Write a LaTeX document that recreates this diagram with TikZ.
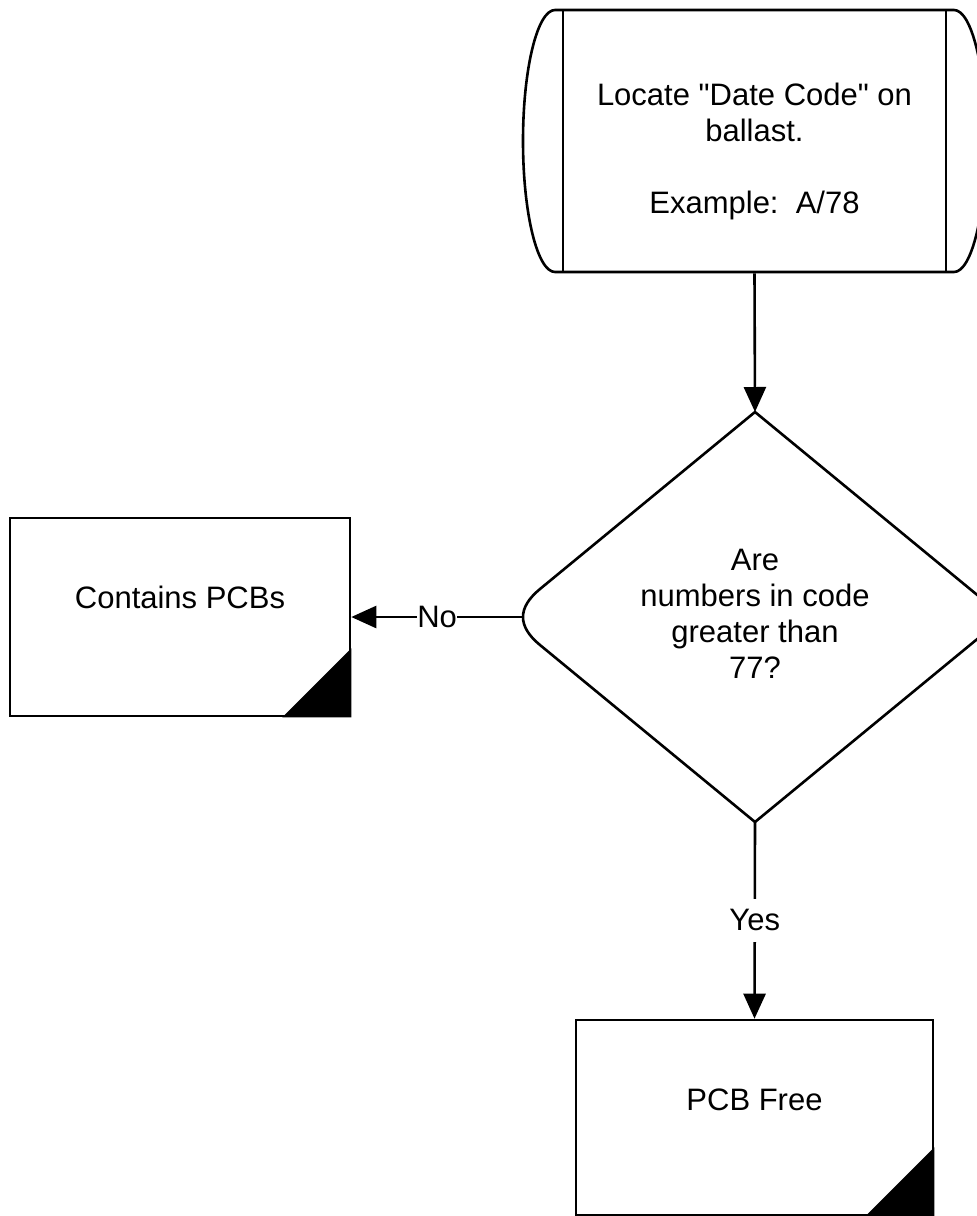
\documentclass[tikz,border=0pt]{standalone}
\usepackage{fontspec}
\newfontfamily\diagfont{Liberation Sans}
\usetikzlibrary{arrows.meta}
\begin{document}
\begin{tikzpicture}[x=1pt,y=-1pt,
  every node/.style={font=\diagfont\fontsize{31}{36}\selectfont},
  shapeline/.style={draw=black,line width=2.6pt},
  procbox/.style={shapeline,rectangle,inner sep=0pt},
  conn/.style={line width=2.6pt,-{Triangle[length=25pt,width=22pt]}},
  lbl/.style={fill=white,inner xsep=0pt,inner ysep=11pt},
  txt/.style={inner sep=0pt,align=center}]
\useasboundingbox (0,0) rectangle (977,1216);
\clip (0,0) rectangle (977,1216);

% start shape (curved sides)
\draw[shapeline] (555,10) -- (954,10)
  arc[start angle=90,end angle=-90,x radius=32pt,y radius=131pt]
  -- (555,272)
  arc[start angle=270,end angle=90,x radius=32pt,y radius=131pt] -- cycle;
\node[procbox,minimum width=383pt,minimum height=262pt] (locate) at (754.5,141) {};
\node[txt,anchor=north] (locatetext) at (754.5,83)
  {Locate "Date Code" on\\ballast.\\[36pt]Example:\ \ A/78};

% decision
\coordinate (dT) at (755,412);
\coordinate (dR) at (1004,617);
\coordinate (dB) at (755,822);
\coordinate (dLc) at (523,617);
\draw[shapeline] (dT) -- (dR) -- (dB) -- (540,645)
  .. controls (517.3,626.3) and (517.3,607.7) .. (540,589) -- cycle;
\node[txt,anchor=north] (question) at (755,548.8)
  {Are\\numbers in code\\greater than\\77?};

% result boxes
\node[procbox,minimum width=340pt,minimum height=198pt] (contains) at (180,617) {};
\fill (contains.south east) -- ++(-69,0) -- ++(69,-69) -- cycle;
\node[anchor=base] (containstext) at (180,608) {Contains PCBs};

\node[procbox,minimum width=357pt,minimum height=195pt] (free) at (754.5,1117.5) {};
\fill (free.south east) -- ++(-69,0) -- ++(69,-69) -- cycle;
\node[anchor=base] (freetext) at (754.5,1110) {PCB Free};

% connectors
\draw[conn] (locate.south) -- (dT);
\draw[conn] (dLc) -- node[lbl] {No} (contains.east);
\draw[conn] (dB) -- node[lbl] {Yes} (free.north);
\end{tikzpicture}
\end{document}
